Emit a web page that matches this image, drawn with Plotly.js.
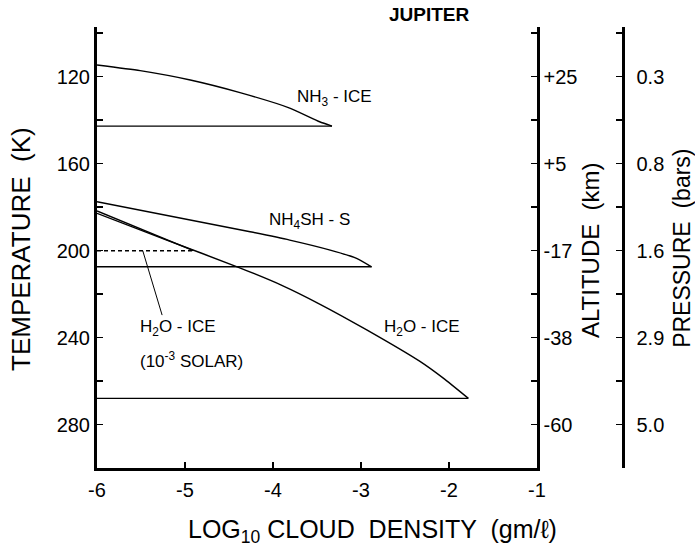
<!DOCTYPE html>
<html>
<head>
<meta charset="utf-8">
<script src="https://cdn.plot.ly/plotly-3.0.1.min.js"></script>
<style>html,body{margin:0;padding:0;background:#fff;}#chart{width:695px;height:550px;}</style>
</head>
<body>
<div id="chart"></div>
<script>
// ---- data (x = log10 cloud density, y = temperature K) ----
const nh3X = [-6, -5.51, -4.94, -4.375, -3.81, -3.47, -3.33];
const nh3T = [114.7, 117.3, 121.6, 127.4, 134.5, 140.8, 142.8];
const nh3Base = 142.8;

const nh4shX = [-6, -4.26, -3.81, -3.35, -3.05, -2.88];
const nh4shT = [177.6, 191.4, 195.2, 199.8, 203.6, 207.5];
const nh4shBase = 207.5;

const h2oX = [-6, -5.2, -4.4, -3.9, -3.47, -2.935, -2.33, -2.065, -1.78];
const h2oT = [182.9, 195.3, 207.6, 216.0, 224.6, 236.5, 251.0, 258.7, 268];
const h2oBase = 268;

const lowX = [-6, -4.905];
const lowT = [181.8, 200.1];
const lowBase = 200.1;

const tempTicks = [120, 160, 200, 240, 280];
const minorTicks = [100, 140, 180, 220, 260, 300];
const altLabels = ['+25', '+5', '-17', '-38', '-60'];
const presLabels = ['0.3', '0.8', '1.6', '2.9', '5.0'];
const xTicks = [-6, -5, -4, -3, -2, -1];
const xTickText = ['-6', '-5', '-4', '-3', '-2', '-1'];

const cloudLabels = [
  {text: 'NH<sub>3</sub> - ICE', x: -3.30, y: 129.9},
  {text: 'NH<sub>4</sub>SH - S', x: -3.58, y: 186.4},
  {text: 'H<sub>2</sub>O - ICE', x: -2.31, y: 235.6}
];
const lowLabel = {line1: 'H<sub>2</sub>O - ICE', line2: '(10<sup>-3</sup> SOLAR)', x: -5.534, y1: 235.6, y2: 250.3};
const leader = {x0: -5.48, y0: 200.1, x1: -5.26, y1: 229.7};

const FONT = 'Liberation Sans, Arial, sans-serif';
const black = '#000';

function curve(x, y) {
  return {x: x, y: y, type: 'scatter', mode: 'lines', line: {color: black, width: 1.4, shape: 'spline', smoothing: 0.5}, hoverinfo: 'skip', showlegend: false};
}
function base(x, b) {
  return {x: [-6, x[x.length - 1]], y: [b, b], type: 'scatter', mode: 'lines', line: {color: black, width: 1.4}, hoverinfo: 'skip', showlegend: false};
}

const traces = [
  curve(nh3X, nh3T), base(nh3X, nh3Base),
  curve(nh4shX, nh4shT), base(nh4shX, nh4shBase),
  curve(h2oX, h2oT), base(h2oX, h2oBase),
  curve(lowX, lowT),
  {x: [-6, lowX[lowX.length - 1]], y: [lowBase, lowBase], type: 'scatter', mode: 'lines', line: {color: black, width: 1.4, dash: '4px,3px'}, hoverinfo: 'skip', showlegend: false},
  {x: [null], y: [null], yaxis: 'y2', type: 'scatter', mode: 'lines', hoverinfo: 'skip', showlegend: false},
  {x: [null], y: [null], yaxis: 'y3', type: 'scatter', mode: 'lines', hoverinfo: 'skip', showlegend: false}
];

const yRange = [300, 97.24];
const tickFont = {family: FONT, size: 20, color: black};

function rightAxis(labels, extra) {
  return Object.assign({
    overlaying: 'y', side: 'right', range: yRange, autorange: false,
    tickmode: 'array', tickvals: tempTicks, ticktext: labels,
    ticks: 'inside', ticklen: 6, tickwidth: 1.5, tickcolor: black,
    minor: {tickmode: 'array', tickvals: minorTicks, ticks: 'inside', ticklen: 6, tickwidth: 1.5, tickcolor: black},
    showline: true, linewidth: 2.5, linecolor: black, showgrid: false, zeroline: false,
    tickfont: tickFont
  }, extra);
}

function paperText(text, x, y, size, extra) {
  return Object.assign({text: text, x: x, y: y, xref: 'paper', yref: 'paper', xanchor: 'center', yanchor: 'middle', showarrow: false, font: {family: FONT, size: size, color: black}}, extra || {});
}

const ann = [];
cloudLabels.forEach(l => ann.push({text: l.text, x: l.x, y: l.y, xref: 'x', yref: 'y', xanchor: 'center', yanchor: 'middle', showarrow: false, font: {family: FONT, size: 17, color: black}}));
ann.push({text: lowLabel.line1, x: lowLabel.x, y: lowLabel.y1, xref: 'x', yref: 'y', xanchor: 'left', yanchor: 'middle', showarrow: false, font: {family: FONT, size: 17, color: black}});
ann.push({text: lowLabel.line2, x: lowLabel.x, y: lowLabel.y2, xref: 'x', yref: 'y', xanchor: 'left', yanchor: 'middle', showarrow: false, font: {family: FONT, size: 17, color: black}});
ann.push(paperText('JUPITER', 0.633, 1.028, 19, {font: {family: FONT, size: 19, color: black, weight: 'bold'}}));
ann.push(paperText('LOG<sub>10</sub> CLOUD  DENSITY  (gm/ℓ)', 0.523, -0.143, 25));
ann.push(paperText('TEMPERATURE  (K)', -0.1445, 0.4966, 26, {textangle: -90}));
ann.push(paperText('ALTITUDE  (km)', 0.937, 0.494, 24, {textangle: -90}));
ann.push(paperText('PRESSURE  (bars)', 1.112, 0.499, 23, {textangle: -90}));

const layout = {
  width: 695, height: 550,
  margin: {l: 97, r: 72, t: 27, b: 82, pad: 0},
  paper_bgcolor: '#fff', plot_bgcolor: '#fff',
  font: {family: FONT, color: black},
  showlegend: false,
  xaxis: {
    domain: [0, 440 / 526], range: [-6, -1], autorange: false,
    tickmode: 'array', tickvals: xTicks, ticktext: xTickText, ticks: 'inside', ticklen: 6, tickwidth: 1.5, tickcolor: black,
    showline: true, linewidth: 3, linecolor: black, showgrid: false, zeroline: false,
    tickfont: tickFont, ticklabelstandoff: 2
  },
  yaxis: {
    range: yRange, autorange: false,
    tickmode: 'array', tickvals: tempTicks, ticks: 'inside', ticklen: 6, tickwidth: 1.5, tickcolor: black,
    minor: {tickmode: 'array', tickvals: minorTicks, ticks: 'inside', ticklen: 6, tickwidth: 1.5, tickcolor: black},
    showline: true, linewidth: 3, linecolor: black, showgrid: false, zeroline: false,
    tickfont: tickFont
  },
  yaxis2: rightAxis(altLabels, {anchor: 'x'}),
  yaxis3: rightAxis(presLabels, {anchor: 'free', position: 1, ticklabelstandoff: 8}),
  shapes: [{type: 'line', xref: 'x', yref: 'y', x0: leader.x0, y0: leader.y0, x1: leader.x1, y1: leader.y1, line: {color: black, width: 1}}],
  annotations: ann
};

Plotly.newPlot('chart', traces, layout, {staticPlot: true, displayModeBar: false});
</script>
</body>
</html>
